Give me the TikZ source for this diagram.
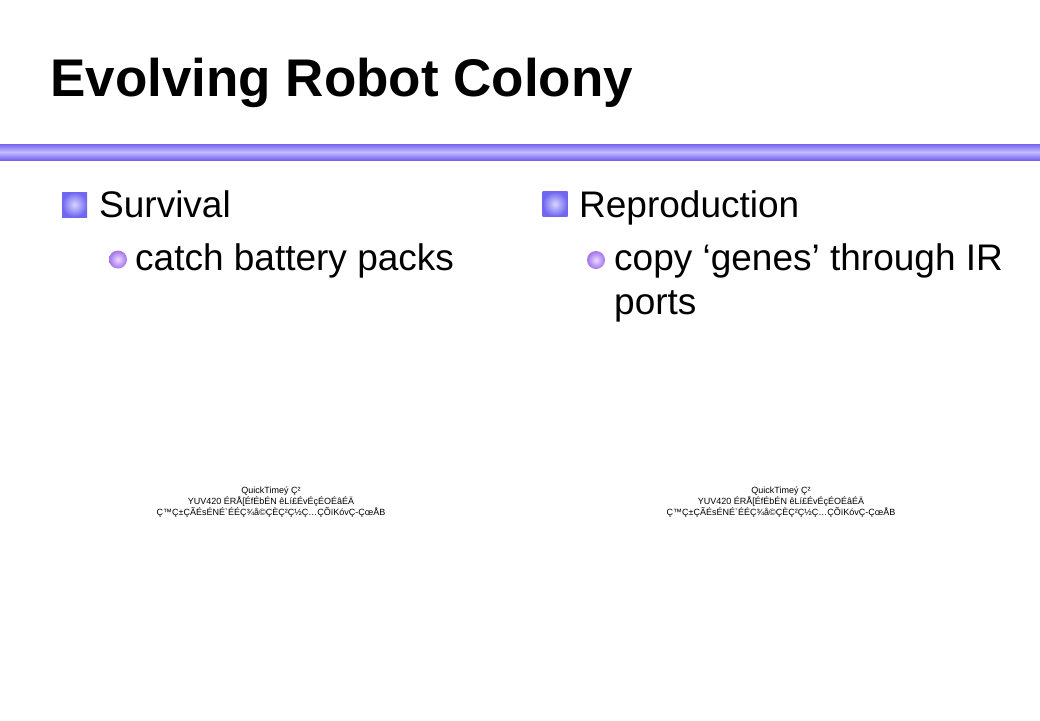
\documentclass[tikz,border=0pt]{standalone}
\usepackage{fontspec}
\setmainfont{Liberation Sans}
\usetikzlibrary{positioning}

\definecolor{barDark}{RGB}{118,100,238}
\definecolor{barLight}{RGB}{196,188,255}
\definecolor{sqOuter}{RGB}{112,102,240}
\definecolor{sqInner}{RGB}{214,214,255}
\definecolor{ballOuter}{RGB}{164,114,236}
\definecolor{ballInner}{RGB}{236,220,255}

\tikzset{
  titletext/.style={anchor=base west, inner sep=0pt,
    font=\fontsize{53}{60}\selectfont\bfseries},
  bodytext/.style={anchor=base west, inner sep=0pt,
    font=\fontsize{37}{44}\selectfont},
  sqbullet/.style={rectangle, minimum size=25pt, inner sep=0pt,
    inner color=sqInner, outer color=sqOuter},
  ballbullet/.style={circle, minimum size=18pt, inner sep=0pt,
    inner color=ballInner, outer color=ballOuter},
  qtnote/.style={align=center, inner sep=0pt,
    font=\fontsize{9}{9}\selectfont}
}

\begin{document}
\begin{tikzpicture}[x=1pt,y=-1pt]

  \useasboundingbox (0,0) rectangle (1040,720);

  % --- title ------------------------------------------------------
  \node[titletext] (title) at (50,96) {Evolving Robot Colony};

  % shaded rule under the title
  \shade[top color=barDark, bottom color=barDark, middle color=barLight]
      (0,144) rectangle (1040,160);

  % --- left column ------------------------------------------------
  \node[sqbullet] (sqL) at (74.5,204.5) {};
  \node[bodytext] (survival) at (99,217) {Survival};

  \node[ballbullet] (dotL) at (118,259.5) {};
  \node[bodytext] (catch) at (135,270) {catch battery packs};

  % --- right column -----------------------------------------------
  \node[sqbullet] (sqR) at (555,204) {};
  \node[bodytext] (repro) at (579,217) {Reproduction};

  \node[ballbullet] (dotR) at (596,260) {};
  \node[bodytext] (copy) at (614,270) {copy `genes' through IR};
  \node[bodytext] (ports) at (614,314) {ports};

  % --- missing movie placeholders ---------------------------------
  \foreach \x/\n in {271/qtL,781/qtR}
      \node[qtnote] (\n) at (\x,502)
        {QuickTime\'y Ç²\\
         YUV420 ÉRÅ[ÉfÉbÉN êLí£ÉvÉçÉOÉâÉÄ\\
         Ç™Ç±ÇÃÉsÉNÉ\textasciigrave ÉÉÇ¾å©ÇÈÇ²Ç½Ç…ÇÕïKóvÇ-ÇœÅB};

\end{tikzpicture}
\end{document}
